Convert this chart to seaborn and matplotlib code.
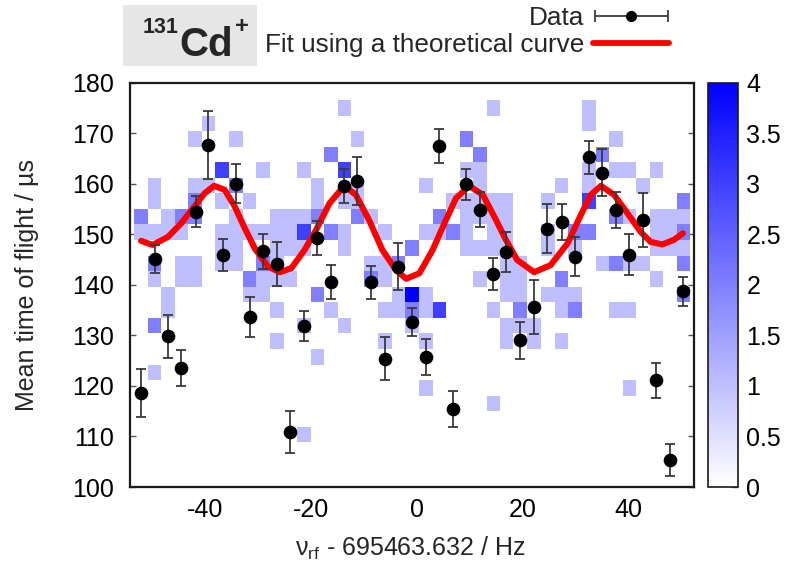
import numpy as np
import pandas as pd
import matplotlib
matplotlib.use("Agg")
import matplotlib.pyplot as plt
import seaborn as sns
from matplotlib.colors import LinearSegmentedColormap
from matplotlib.patches import Rectangle
from matplotlib.lines import Line2D
from matplotlib.ticker import FuncFormatter
from matplotlib.container import ErrorbarContainer
from matplotlib.legend_handler import HandlerErrorbar

sns.set_theme(style="white")
plt.rcParams["font.family"] = ["Liberation Sans", "DejaVu Sans"]
plt.rcParams["mathtext.fontset"] = "custom"
plt.rcParams["mathtext.rm"] = "Liberation Sans"
plt.rcParams["mathtext.it"] = "Liberation Sans:italic"
plt.rcParams["mathtext.bf"] = "Liberation Sans:bold"
plt.rcParams["axes.unicode_minus"] = False

# ---------------- data ----------------
freq = [-52.2, -49.5, -47.0, -44.5, -41.8, -39.5, -36.7, -34.2, -31.5, -29.1,
        -26.4, -23.9, -21.3, -18.8, -16.2, -13.7, -11.2, -8.6, -6.0, -3.5,
        -0.9, 1.7, 4.3, 6.8, 9.4, 11.9, 14.5, 16.9, 19.6, 22.2,
        24.7, 27.4, 29.9, 32.6, 35.0, 37.6, 40.2, 42.8, 45.3, 47.9, 50.4]
tof = [118.6, 145.1, 129.8, 123.6, 154.5, 167.7, 145.9, 160.0, 133.6, 146.6,
       144.1, 110.9, 131.8, 149.3, 140.5, 159.6, 160.5, 140.5, 125.4, 143.6,
       132.6, 125.7, 167.5, 115.4, 159.9, 154.9, 142.1, 146.5, 129.0, 135.6,
       151.1, 152.4, 145.6, 165.2, 162.2, 154.8, 146.0, 152.8, 121.1, 105.4, 138.7]
tof_err = [4.7, 2.8, 4.2, 3.6, 3.1, 6.7, 3.1, 3.9, 3.9, 3.4,
           4.3, 4.2, 3.0, 3.4, 3.4, 3.4, 4.8, 3.3, 4.3, 4.7,
           2.8, 3.6, 3.4, 3.6, 3.1, 3.5, 3.2, 3.9, 3.6, 5.4,
           4.8, 3.6, 3.8, 3.2, 4.7, 3.6, 4.1, 5.3, 3.4, 3.2, 2.9]

fit_x = [-52.1, -49.9, -47.0, -44.5, -42.0, -40.1, -38.3, -36.3, -34.4, -32.5,
         -30.6, -28.1, -25.9, -23.7, -21.2, -19.0, -16.5, -13.7, -11.5, -9.0,
         -6.5, -3.9, -2.0, 0.5, 3.0, 5.5, 7.4, 9.9, 12.5, 15.0,
         16.7, 19.0, 22.2, 25.3, 28.5, 31.0, 32.9, 34.8, 37.3, 39.8,
         42.3, 44.2, 46.4, 48.6, 50.3]
fit_y = [148.7, 147.9, 149.5, 152.2, 155.5, 158.1, 159.6, 158.8, 155.5, 151.2,
         147.2, 143.6, 142.5, 143.3, 146.9, 150.9, 156.1, 159.6, 157.8, 152.8,
         146.9, 142.9, 141.2, 142.3, 146.9, 152.8, 157.1, 159.6, 157.8, 152.8,
         149.2, 144.9, 142.5, 143.9, 148.2, 153.8, 157.8, 159.6, 157.8, 154.2,
         150.5, 148.5, 148.0, 148.9, 150.2]

# 2D histogram of single events: row (time of flight) -> columns (scan step index) and counts
heat_row_tof = [181.2, 175.0, 172.0, 168.9, 165.8, 162.7, 159.6, 156.6, 153.5, 150.4,
                147.3, 144.2, 141.2, 138.1, 135.0, 131.9, 128.8, 125.8, 122.7, 119.6,
                116.5, 110.4]
heat_row_cols = [
    [10, 25],
    [16, 27, 34],
    [6, 34],
    [5, 8, 17, 25, 36],
    [15, 26, 35],
    [7, 10, 13, 16, 25, 26, 34, 36, 37, 39],
    [2, 5, 6, 8, 14, 17, 22, 26, 32, 34, 38],
    [2, 5, 7, 9, 14, 16, 17, 24, 25, 26, 27, 28, 31, 34, 41],
    [1, 3, 4, 5, 8, 11, 12, 13, 14, 17, 18, 23, 25, 26, 27, 28, 36, 37, 39, 40, 41],
    [1, 2, 3, 4, 7, 8, 9, 10, 11, 12, 13, 15, 16, 19, 22, 23, 24, 25, 27, 28, 31, 33, 34, 39, 40, 41],
    [7, 8, 11, 12, 13, 16, 21, 25, 26, 27, 28, 31, 33, 39, 40, 41],
    [2, 4, 5, 7, 8, 10, 11, 18, 19, 20, 28, 29, 35, 36, 37, 38, 41],
    [2, 4, 5, 9, 10, 11, 12, 18, 19, 26, 28, 29, 32, 39],
    [3, 9, 10, 14, 20, 21, 22, 28, 29, 31, 32, 33, 41],
    [3, 11, 15, 19, 20, 21, 22, 23, 27, 29, 32, 33, 36, 37],
    [2, 13, 16, 21, 28, 29, 30],
    [11, 19, 22, 28, 30, 32],
    [14],
    [2],
    [22, 37],
    [27],
    [13],
]
heat_row_counts = [
    [2, 2],
    [1, 1, 1],
    [1, 1],
    [1, 1, 1, 2, 1],
    [2, 2, 2],
    [3, 1, 1, 3, 1, 1, 1, 1, 1, 1],
    [1, 1, 1, 2, 1, 1, 1, 1, 1, 1, 1],
    [1, 2, 1, 1, 1, 1, 1, 1, 1, 1, 1, 1, 1, 3, 2],
    [2, 1, 2, 2, 1, 1, 1, 1, 2, 2, 1, 2, 1, 1, 1, 1, 2, 1, 1, 1, 1],
    [1, 1, 1, 1, 1, 1, 1, 1, 1, 1, 3, 2, 1, 1, 1, 1, 2, 1, 1, 1, 1, 2, 2, 1, 1, 2],
    [1, 1, 1, 1, 1, 1, 2, 1, 1, 1, 1, 1, 1, 1, 1, 1],
    [2, 1, 1, 1, 1, 2, 1, 1, 1, 2, 1, 1, 1, 2, 1, 1, 2],
    [1, 1, 1, 2, 1, 1, 1, 2, 1, 1, 1, 1, 2, 1],
    [1, 1, 1, 2, 1, 4, 1, 1, 1, 1, 1, 1, 2],
    [1, 1, 1, 1, 1, 2, 1, 3, 1, 2, 1, 2, 1, 1],
    [2, 1, 1, 1, 1, 1, 1],
    [1, 1, 1, 1, 1, 1],
    [1],
    [1],
    [1, 1],
    [1],
    [1],
]
cbar_ticks = [0, 0.5, 1, 1.5, 2, 2.5, 3, 3.5, 4]

# ---------------- build tables ----------------
freq_arr = np.array(freq)
cell_f, cell_t, cell_n = [], [], []
for t, cols, cnts in zip(heat_row_tof, heat_row_cols, heat_row_counts):
    for c, n in zip(cols, cnts):
        cell_f.append(freq[c - 1])
        cell_t.append(t)
        cell_n.append(n)
heat_df = pd.DataFrame({"freq": cell_f, "tof": cell_t, "count": cell_n})

step = np.mean(np.diff(freq_arr))
x_edges = np.concatenate(([freq_arr[0] - step / 2],
                          (freq_arr[1:] + freq_arr[:-1]) / 2,
                          [freq_arr[-1] + step / 2]))
y_step = 3.08
y_edges = 173.5 - y_step * np.arange(24, -4, -1)

cmap = LinearSegmentedColormap.from_list("wb", ["#ffffff", "#0000ff"])

# ---------------- figure ----------------
fig = plt.figure(figsize=(8, 5.69), dpi=100)
ax = fig.add_axes([0.1631, 0.1441, 0.7044, 0.7106])
cax = fig.add_axes([0.885, 0.1441, 0.0375, 0.7106])

sns.histplot(data=heat_df, x="freq", y="tof", weights="count",
             bins=[x_edges, y_edges], cmap=cmap, vmin=0, vmax=4, thresh=0,
             cbar=True, cbar_ax=cax, ax=ax, linewidth=0, antialiased=False)

sns.lineplot(x=fit_x, y=fit_y, color="#ff0000", linewidth=4.4, ax=ax,
             zorder=3, solid_joinstyle="round", solid_capstyle="round")

ax.errorbar(freq, tof, yerr=tof_err, fmt="o", color="black", ms=8.8,
            ecolor="#3a3a3a", elinewidth=1.3, capsize=3.5, capthick=1.3, zorder=4)

ax.set_xlim(-54.1, 52.4)
ax.set_ylim(100, 180)
ax.set_xticks([-40, -20, 0, 20, 40])
ax.set_yticks(np.arange(100, 181, 10))
ax.set_xlabel("")
ax.set_ylabel("")
ax.tick_params(axis="y", direction="in", length=4, width=1, left=True, right=True,
               labelsize=18, pad=12, colors="#555555", labelcolor="black")
ax.tick_params(axis="x", length=0, labelsize=18, pad=8, labelcolor="black")
for s in ax.spines.values():
    s.set_color("#1a1a1a")
    s.set_linewidth(1.6)

# colorbar
cax.set_ylim(0, 4)
cax.set_yticks(cbar_ticks)
cax.yaxis.set_major_formatter(FuncFormatter(lambda v, p: f"{v:g}"))
cax.tick_params(axis="y", direction="in", length=4, width=1, labelsize=18, pad=6,
                colors="#555555", labelcolor="black", right=True, left=False)
for s in cax.spines.values():
    s.set_color("#1a1a1a")
    s.set_linewidth(1.2)
try:
    ax.collections[0].colorbar.outline.set_edgecolor("#1a1a1a")
    ax.collections[0].colorbar.outline.set_linewidth(1.2)
except Exception:
    pass

# axis labels
fig.text(27 / 800, 1 - 285 / 569, "Mean time of flight / µs", rotation=90,
         ha="center", va="center", fontsize=18)
fig.text(410 / 800, 1 - 548 / 569, "ν$_{\\mathrm{rf}}$ - 695463.632 / Hz",
         ha="center", va="center", fontsize=18)

# legend
h_data = ax.errorbar([np.nan], [np.nan], xerr=[1.0], fmt="o", color="black", ms=7,
                     ecolor="#3a3a3a", elinewidth=1.3, capsize=4, capthick=1.3)
h_fit = Line2D([], [], color="#ff0000", lw=4.2)
fig.legend([h_data, h_fit], ["Data", "Fit using a theoretical curve"],
           loc="upper right", bbox_to_anchor=(669 / 800, 1 - 6 / 569),
           frameon=False, markerfirst=False, fontsize=18.8, handlelength=2.9,
           handletextpad=0.35, labelspacing=0.12, borderpad=0, borderaxespad=0,
           handler_map={ErrorbarContainer: HandlerErrorbar(xerr_size=1.4)})

# isotope label box
fig.patches.append(Rectangle((123 / 800, 1 - 66 / 569), (257 - 123) / 800, 61 / 569,
                             transform=fig.transFigure, facecolor="#e6e6e6",
                             edgecolor="none", zorder=0))
fig.text(179 / 800, 1 - 33 / 569, "131", ha="right", va="baseline",
         fontsize=15.5, fontweight="bold")
fig.text(179 / 800, 1 - 56 / 569, "Cd", ha="left", va="baseline",
         fontsize=29, fontweight="bold")
fig.text(235 / 800, 1 - 33 / 569, "+", ha="left", va="baseline",
         fontsize=17, fontweight="bold")

fig.savefig("out.png", dpi=100)
